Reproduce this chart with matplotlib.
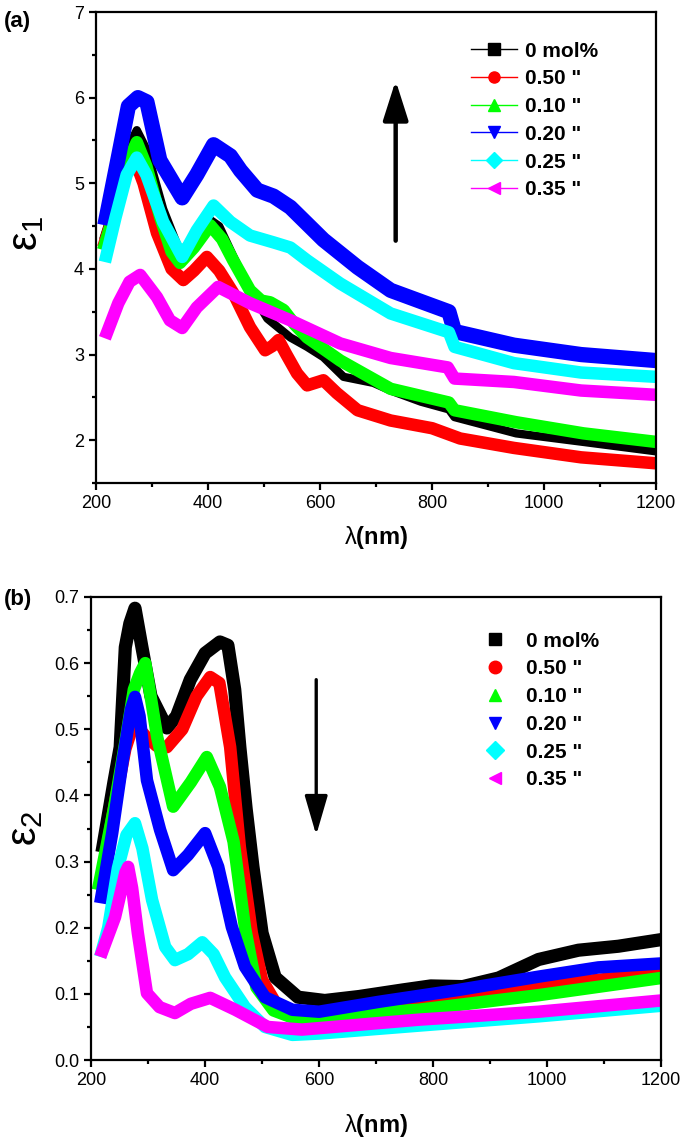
import numpy as np
import matplotlib
matplotlib.use('Agg')
import matplotlib.pyplot as plt
from matplotlib.lines import Line2D
from matplotlib.ticker import MultipleLocator, FormatStrFormatter

plt.rcParams['font.family'] = ['Liberation Sans', 'DejaVu Sans']
plt.rcParams['mathtext.fontset'] = 'custom'
plt.rcParams['mathtext.rm'] = 'Liberation Sans'
plt.rcParams['mathtext.bf'] = 'Liberation Sans:bold'
plt.rcParams['mathtext.default'] = 'regular'

labels = ['0 mol%', '0.50 "', '0.10 "', '0.20 "', '0.25 "', '0.35 "']
colors = ['#000000', '#ff0000', '#00ff00', '#0000ff', '#00ffff', '#ff00ff']
markers = ['s', 'o', '^', 'v', 'D', '<']

# ---- (a) real part eps1 ----
wl1_black = [213, 240, 260, 273, 290, 320, 350, 375, 398, 420, 445, 475, 506, 547, 577, 606, 642, 695,
             726, 780, 830, 840, 950, 1070, 1200]
e1_black = [4.34, 4.9, 5.45, 5.62, 5.4, 4.7, 4.2, 4.35, 4.6, 4.5, 4.15, 3.75, 3.42, 3.2, 3.09, 2.97, 2.74, 2.67,
            2.58, 2.45, 2.36, 2.27, 2.08, 1.98, 1.87]
wl1_red = [213, 240, 255, 268, 285, 309, 335, 356, 375, 398, 420, 445, 475, 502, 515, 526, 540, 559, 577, 606,
           630, 667, 726, 800, 850, 946, 1066, 1200]
e1_red = [4.25, 4.8, 5.15, 5.3, 5.0, 4.42, 4.0, 3.87, 3.98, 4.14, 3.98, 3.72, 3.32, 3.05, 3.1, 3.17, 3.0, 2.78,
          2.64, 2.7, 2.55, 2.35, 2.23, 2.14, 2.02, 1.91, 1.8, 1.73]
wl1_green = [213, 240, 260, 273, 290, 315, 335, 350, 375, 404, 425, 445, 475, 495, 511, 535, 555, 577, 636,
             726, 830, 840, 950, 1070, 1200]
e1_green = [4.22, 4.8, 5.3, 5.48, 5.2, 4.6, 4.2, 4.07, 4.25, 4.51, 4.35, 4.1, 3.75, 3.63, 3.61, 3.52, 3.35, 3.2,
            2.93, 2.6, 2.44, 2.35, 2.21, 2.08, 1.98]
wl1_blue = [216, 240, 258, 275, 291, 314, 354, 380, 410, 440, 458, 488, 517, 547, 606, 667, 726, 780, 830,
            840, 946, 1066, 1200]
e1_blue = [4.51, 5.3, 5.9, 6.0, 5.95, 5.27, 4.83, 5.1, 5.45, 5.32, 5.15, 4.92, 4.85, 4.72, 4.34, 4.02, 3.75,
           3.62, 3.5, 3.27, 3.11, 3.0, 2.93]
wl1_cyan = [216, 235, 255, 273, 290, 320, 354, 380, 410, 440, 475, 517, 547, 577, 636, 726, 830, 840, 946,
            1066, 1200]
e1_cyan = [4.08, 4.6, 5.1, 5.3, 5.1, 4.55, 4.14, 4.45, 4.74, 4.55, 4.39, 4.31, 4.25, 4.1, 3.83, 3.48, 3.26,
           3.09, 2.9, 2.79, 2.74]
wl1_mag = [216, 240, 260, 279, 309, 332, 354, 380, 418, 445, 475, 547, 636, 726, 828, 840, 946, 1066, 1200]
e1_mag = [3.19, 3.6, 3.85, 3.93, 3.67, 3.4, 3.31, 3.55, 3.79, 3.7, 3.6, 3.4, 3.13, 2.96, 2.85, 2.72, 2.68,
          2.58, 2.53]

# ---- (b) imaginary part eps2 ----
wl2_black = [219, 240, 251, 260, 268, 277, 289, 305, 333, 350, 374, 400, 426, 440, 452, 461, 472, 484, 500,
             523, 563, 610, 670, 747, 796, 852, 915, 985, 1055, 1125, 1200]
e2_black = [0.314, 0.42, 0.473, 0.624, 0.66, 0.683, 0.625, 0.55, 0.502, 0.52, 0.575, 0.615, 0.632, 0.627,
            0.56, 0.473, 0.38, 0.292, 0.192, 0.125, 0.095, 0.09, 0.096, 0.106, 0.112, 0.111, 0.124, 0.152,
            0.166, 0.172, 0.182]
wl2_red = [215, 240, 260, 275, 295, 315, 333, 360, 385, 409, 425, 444, 461, 482, 500, 528, 570, 600, 810,
           985, 1200]
e2_red = [0.26, 0.38, 0.47, 0.51, 0.49, 0.475, 0.473, 0.5, 0.55, 0.579, 0.57, 0.473, 0.322, 0.192, 0.121,
          0.08, 0.07, 0.07, 0.086, 0.112, 0.131]
wl2_green = [212, 240, 260, 275, 286, 295, 316, 344, 375, 403, 426, 450, 470, 490, 520, 560, 600, 775, 985,
             1200]
e2_green = [0.257, 0.38, 0.48, 0.56, 0.585, 0.6, 0.488, 0.383, 0.42, 0.458, 0.413, 0.33, 0.2, 0.11, 0.075,
            0.062, 0.066, 0.076, 0.098, 0.124]
wl2_blue = [216, 237, 255, 270, 277, 285, 298, 321, 344, 370, 400, 423, 447, 470, 505, 553, 600, 705, 845,
            985, 1090, 1200]
e2_blue = [0.237, 0.343, 0.45, 0.53, 0.549, 0.52, 0.423, 0.348, 0.287, 0.31, 0.343, 0.292, 0.201, 0.141,
           0.095, 0.076, 0.073, 0.088, 0.106, 0.126, 0.14, 0.146]
wl2_cyan = [216, 230, 247, 262, 277, 290, 307, 330, 347, 370, 395, 415, 435, 470, 505, 553, 600, 775, 985,
            1200]
e2_cyan = [0.156, 0.2, 0.29, 0.34, 0.358, 0.32, 0.242, 0.171, 0.151, 0.16, 0.178, 0.16, 0.125, 0.08, 0.05,
           0.038, 0.04, 0.052, 0.066, 0.082]
wl2_mag = [216, 242, 260, 265, 272, 282, 298, 320, 347, 375, 409, 453, 510, 570, 775, 985, 1200]
e2_mag = [0.156, 0.216, 0.283, 0.292, 0.26, 0.192, 0.101, 0.08, 0.071, 0.085, 0.094, 0.076, 0.05, 0.046,
          0.061, 0.073, 0.09]

series_a = [(wl1_black, e1_black), (wl1_red, e1_red), (wl1_green, e1_green),
            (wl1_blue, e1_blue), (wl1_cyan, e1_cyan), (wl1_mag, e1_mag)]
series_b = [(wl2_black, e2_black), (wl2_red, e2_red), (wl2_green, e2_green),
            (wl2_blue, e2_blue), (wl2_cyan, e2_cyan), (wl2_mag, e2_mag)]
lw_a = [6, 9, 9, 11, 9, 9]
lw_b = [9.5, 9, 9, 9, 9, 9]

fig = plt.figure(figsize=(6.85, 11.43), dpi=100)
ax1 = fig.add_axes([0.140, 0.5774, 0.818, 0.4121])
ax2 = fig.add_axes([0.133, 0.0726, 0.832, 0.4051])

for (x, y), c, lw in zip(series_a, colors, lw_a):
    ax1.plot(x, y, color=c, lw=lw, solid_joinstyle='round', solid_capstyle='butt')
for (x, y), c, lw in zip(series_b, colors, lw_b):
    ax2.plot(x, y, color=c, lw=lw, solid_joinstyle='round', solid_capstyle='butt')

for ax in (ax1, ax2):
    ax.set_xlim(200, 1200)
    ax.xaxis.set_major_locator(MultipleLocator(200))
    ax.xaxis.set_minor_locator(MultipleLocator(100))
    for s in ax.spines.values():
        s.set_linewidth(1.6)
    ax.tick_params(which='major', direction='out', length=5, width=1.6, labelsize=13,
                   top=False, right=False)
    ax.tick_params(which='minor', direction='out', length=3, width=1.6, top=False, right=False)

ax1.set_xlabel(r'$\lambda\mathbf{(nm)}$', fontsize=17, labelpad=9)
ax2.set_xlabel(r'$\lambda\mathbf{(nm)}$', fontsize=17, labelpad=17)

ax1.set_ylim(1.5, 7)
ax1.yaxis.set_major_locator(MultipleLocator(1))
ax1.yaxis.set_minor_locator(MultipleLocator(0.5))
ax1.set_ylabel(r'$\varepsilon_1$', fontsize=30)
ax1.yaxis.set_label_coords(-0.088, 0.53)

ax2.set_ylim(0, 0.7)
ax2.yaxis.set_major_locator(MultipleLocator(0.1))
ax2.yaxis.set_minor_locator(MultipleLocator(0.05))
ax2.yaxis.set_major_formatter(FormatStrFormatter('%.1f'))
ax2.set_ylabel(r'$\varepsilon_2$', fontsize=30)
ax2.yaxis.set_label_coords(-0.08, 0.5)

# arrows
ax1.annotate('', xy=(735, 6.2), xytext=(735, 4.33),
             arrowprops=dict(arrowstyle='-|>,head_length=1.1,head_width=0.35', lw=3.2, color='k',
                             mutation_scale=22, shrinkA=0, shrinkB=0))
ax2.annotate('', xy=(595, 0.34), xytext=(595, 0.575),
             arrowprops=dict(arrowstyle='-|>,head_length=1.1,head_width=0.32', lw=2.4, color='k',
                             mutation_scale=22, shrinkA=0, shrinkB=0))

# legends
hand_a = [Line2D([], [], color=c, marker=m, lw=1, markersize=8) for c, m in zip(colors, markers)]
ax1.legend(hand_a, labels, loc='upper left', bbox_to_anchor=(0.655, 0.955), frameon=False,
           prop={'weight': 'bold', 'size': 15}, handlelength=2.2, handletextpad=0.4,
           labelspacing=0.42, borderaxespad=0)
hand_b = [Line2D([], [], color=c, marker=m, ls='none', markersize=9) for c, m in zip(colors, markers)]
ax2.legend(hand_b, labels, loc='upper left', bbox_to_anchor=(0.676, 0.943), frameon=False,
           prop={'weight': 'bold', 'size': 15}, handlelength=1.0, handletextpad=1.0,
           labelspacing=0.42, borderaxespad=0)

fig.text(0.006, 1 - 22 / 1143, '(a)', fontsize=16, fontweight='bold', va='center', ha='left')
fig.text(0.006, 1 - 600 / 1143, '(b)', fontsize=16, fontweight='bold', va='center', ha='left')

fig.savefig('out.png', dpi=100)
